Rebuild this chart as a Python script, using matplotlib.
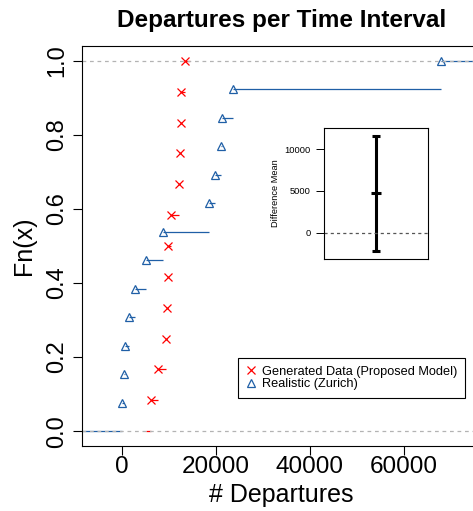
import numpy as np
import matplotlib.pyplot as plt
from matplotlib.lines import Line2D

plt.rcParams['font.family'] = ['Liberation Sans', 'DejaVu Sans']

# ecdf samples
gen_x = [6170, 7660, 9280, 9570, 9700, 9760, 10340, 12040, 12260, 12550, 12620, 13320]
real_x = [60, 340, 550, 1500, 2830, 5100, 8640, 18570, 19850, 21050, 21250, 23650, 67950]

xticks = [0, 20000, 40000, 60000]
yticks = [0.0, 0.2, 0.4, 0.6, 0.8, 1.0]
ytick_labels = ["0.0", "0.2", "0.4", "0.6", "0.8", "1.0"]

# inset: difference of means with CI
diff_mean = [4720]
diff_lo = [-2190]
diff_hi = [11630]
inset_ticks = [0, 5000, 10000]

red = '#FF0000'
blue = '#1F5FA6'


def ecdf_parts(x):
    # same extension rule as R's plot.stepfun
    x = np.sort(np.asarray(x, float))
    y = np.arange(1, len(x) + 1) / len(x)
    dr = max(0.08 * (x[-1] - x[0]), np.median(np.diff(x)))
    lim = (x[0] - dr, x[-1] + dr)
    return x, y, dr, lim


def draw_ecdf(ax, x, color, marker, ms, mfc):
    x, y, dr, lim = ecdf_parts(x)
    ends = np.append(x[1:], lim[1] + dr)
    ax.hlines(y, x, ends, color=color, lw=0.9)
    ax.hlines(0, lim[0] - dr, x[0], color=color, lw=0.9)
    ax.plot(x, y, ls='none', marker=marker, ms=ms, mfc=mfc, mec=color, mew=0.9)
    return lim


fig = plt.figure(figsize=(4.73, 5.11), dpi=100)

# blue ecdf is the first plot, its range sets the axis (R adds 4%)
_, _, _, lim = ecdf_parts(real_x)
span = lim[1] - lim[0]
xlim = (lim[0] - 0.04 * span, lim[1] + 0.04 * span)

ax = fig.add_axes([82 / 473, 1 - 446 / 511, 399.4 / 473, 400 / 511])
draw_ecdf(ax, gen_x, red, 'x', 5.2, 'none')
draw_ecdf(ax, real_x, blue, '^', 6, 'none')
ax.axhline(0, color='#B3B3B3', ls=(0, (3, 3)), lw=0.9)
ax.axhline(1, color='#B3B3B3', ls=(0, (3, 3)), lw=0.9)

ax.set_xlim(xlim)
ax.set_ylim(-0.04, 1.04)
ax.set_xticks(xticks)
ax.set_xticklabels([str(t) for t in xticks], fontsize=17.5)
ax.set_yticks(yticks)
ax.set_yticklabels(ytick_labels, fontsize=17, rotation=90, va='center')
ax.tick_params(axis='both', length=6.5, width=0.8, direction='out')
ax.tick_params(axis='x', pad=1)
ax.tick_params(axis='y', pad=3.5)
for s in ax.spines.values():
    s.set_linewidth(0.8)

ax.set_xlabel('# Departures', fontsize=18, labelpad=3)
ax.set_ylabel('Fn(x)', fontsize=18, labelpad=7)
ax.set_title('Departures per Time Interval', fontsize=17.5, fontweight='bold', pad=13.5)

handles = [Line2D([], [], ls='none', marker='x', ms=5.2, mec=red, mew=0.9),
           Line2D([], [], ls='none', marker='^', ms=6, mfc='none', mec=blue, mew=0.9)]
leg = ax.legend(handles, ['Generated Data (Proposed Model)', 'Realistic (Zurich)'],
                loc='upper left', bbox_to_anchor=(0.3906, 0.22), fontsize=9.2,
                frameon=True, fancybox=False, framealpha=1, edgecolor='black',
                borderpad=0.6, labelspacing=0.05, handlelength=0.77,
                handletextpad=0.5, borderaxespad=0)
leg.get_frame().set_linewidth(0.8)

# inset with mean difference and interval
ax2 = fig.add_axes([324.3 / 473, 1 - 258.7 / 511, 103.7 / 473, 130.7 / 511])
m = np.array(diff_mean)
yerr = [m - np.array(diff_lo), np.array(diff_hi) - m]
ax2.errorbar([1], m, yerr=yerr, fmt='_', ms=7, mew=2.2, color='black',
             ecolor='black', elinewidth=2.2, capsize=3.2, capthick=2.2)
ax2.axhline(0, color='#555555', ls=(0, (2.5, 2.5)), lw=0.9)
ax2.set_xlim(0.4, 1.6)
ax2.set_ylim(-3120, 12550)
ax2.set_xticks([])
ax2.set_yticks(inset_ticks)
ax2.set_yticklabels([str(t) for t in inset_ticks], fontsize=6.7)
ax2.tick_params(axis='y', length=6, width=0.7, pad=4)
ax2.set_ylabel('Difference Mean', fontsize=6.7, labelpad=3)
for s in ax2.spines.values():
    s.set_linewidth(0.8)

fig.savefig('out.png', dpi=100)
